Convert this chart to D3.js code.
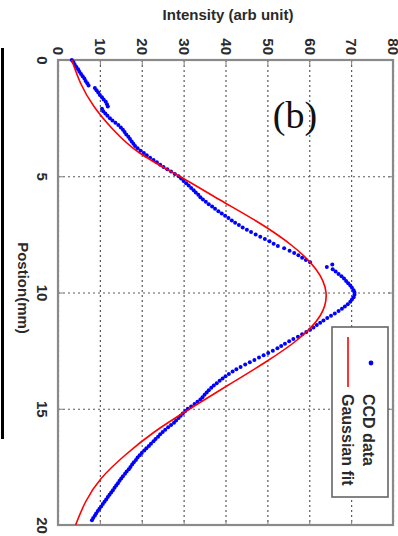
<!DOCTYPE html>
<html>
<head>
<meta charset="utf-8">
<script src="https://cdn.jsdelivr.net/npm/d3@7/dist/d3.min.js"></script>
<style>
  body { margin: 0; background: #fff; }
  svg { display: block; font-family: "Liberation Sans", Arial, sans-serif; }
  .tick line { stroke: #808080; }
  .grid line { stroke: #5a5a5a; stroke-dasharray: 2,3; stroke-width: 1.2; }
</style>
</head>
<body>
<script>
var width = 398;
var height = 536;
var plot = { left: 58, top: 60, right: 393, bottom: 525 };

// tick labels
var intensityTicks = [0, 10, 20, 30, 40, 50, 60, 70, 80];
var positionTicks = [0, 5, 10, 15, 20];

// CCD data, one reading every 0.1 mm starting at 0 mm
var ccdStep = 0.1;
var ccdIntensity = [
  3.3, 3.7, 4.0, 4.4, 4.8, 5.1, 5.5, 5.9, 6.3, 6.6,
  7.0, 7.3, 8.8, 9.2, 9.6, 10.0, 10.5, 10.9, 11.4, 11.7,
  11.9, 10.5, 10.8, 11.3, 11.8, 12.4, 13.0, 13.7, 14.4, 15.0,
  15.5, 15.9, 16.3, 16.8, 17.2, 17.6, 18.0, 18.4, 19.0, 19.7,
  20.5, 21.2, 22.0, 22.8, 23.6, 24.4, 25.2, 26.1, 27.0, 27.9,
  28.8, 29.4, 30.0, 30.6, 31.2, 31.8, 32.4, 32.9, 33.5, 34.0,
  34.6, 35.3, 36.0, 36.8, 37.5, 38.3, 39.1, 39.9, 40.7, 41.5,
  42.3, 43.2, 44.1, 45.1, 46.1, 47.2, 48.3, 49.4, 50.5, 51.5,
  52.5, 54.0, 55.3, 56.4, 57.4, 58.3, 59.2, 60.2, 65.5, 64.2,
  65.6, 66.3, 67.0, 67.7, 68.3, 68.8, 69.3, 69.8, 70.2, 70.6,
  70.8, 70.8, 70.6, 70.2, 69.8, 69.2, 68.5, 67.8, 67.0, 66.1,
  65.2, 64.3, 63.4, 62.6, 61.8, 61.0, 60.2, 59.3, 58.3, 57.3,
  56.2, 55.2, 54.2, 53.3, 52.4, 51.3, 50.2, 49.1, 48.0, 46.9,
  45.8, 44.7, 43.6, 42.6, 41.7, 40.8, 40.0, 39.3, 38.6, 37.9,
  37.2, 36.6, 36.0, 35.5, 35.0, 34.5, 34.0, 33.3, 32.6, 31.8,
  31.0, 30.4, 29.8, 29.3, 28.8, 28.2, 27.7, 27.0, 26.3, 25.6,
  25.0, 24.4, 23.9, 23.3, 22.8, 22.2, 21.7, 21.1, 20.6, 20.0,
  19.5, 19.0, 18.6, 18.1, 17.7, 17.3, 16.9, 16.4, 16.0, 15.5,
  15.1, 14.7, 14.3, 13.9, 13.5, 13.1, 12.7, 12.3, 11.9, 11.5,
  11.1, 10.7, 10.3, 9.9, 9.5, 9.1, 8.8, 8.4, 8.1
];

// Gaussian fit
var fitPosition = [0, 1, 2, 3, 4, 5, 6, 7, 8, 9, 10, 11, 12, 13, 14, 15, 16, 17, 18, 19, 20];
var fitIntensity = [3.3, 5.4, 8.6, 13.2, 19.5, 29.0, 38.5, 48.0, 56.0, 61.6, 64.0,
  62.6, 57.4, 49.5, 40.5, 31.5, 23.0, 16.0, 10.3, 6.6, 4.2];

var legendLabels = ['CCD data', 'Gaussian fit'];

var ccdPoints = ccdIntensity.map(function(v, i) {
  return { pos: i * ccdStep, value: v };
});
var fitPoints = fitPosition.map(function(p, i) {
  return { pos: p, value: fitIntensity[i] };
});

// the figure is turned a quarter turn: intensity runs left to right, position top to bottom
var x = d3.scaleLinear().domain([0, 80]).range([plot.left, plot.right]);
var y = d3.scaleLinear().domain([0, 20]).range([plot.top, plot.bottom]);

var svg = d3.select('body').append('svg')
  .attr('width', width)
  .attr('height', height);

// leftover frame edge of the neighbouring panel
svg.append('rect')
  .attr('x', 1).attr('y', 48)
  .attr('width', 3).attr('height', 391)
  .attr('fill', '#000');

// grid
svg.append('g')
  .attr('class', 'grid')
  .attr('transform', 'translate(0,' + plot.top + ')')
  .call(d3.axisTop(x).tickValues(intensityTicks).tickSize(-(plot.bottom - plot.top)).tickFormat(''))
  .call(function(g) { g.select('.domain').remove(); });

svg.append('g')
  .attr('class', 'grid')
  .attr('transform', 'translate(' + plot.left + ',0)')
  .call(d3.axisLeft(y).tickValues(positionTicks).tickSize(-(plot.right - plot.left)).tickFormat(''))
  .call(function(g) { g.select('.domain').remove(); });

// axes with inward ticks
var topAxis = svg.append('g')
  .attr('transform', 'translate(0,' + plot.top + ')')
  .call(d3.axisTop(x).tickValues(intensityTicks).tickSize(-5));

var leftAxis = svg.append('g')
  .attr('transform', 'translate(' + plot.left + ',0)')
  .call(d3.axisLeft(y).tickValues(positionTicks).tickSize(-5));

svg.append('g')
  .attr('transform', 'translate(0,' + plot.bottom + ')')
  .call(d3.axisBottom(x).tickValues(intensityTicks).tickSize(-5).tickFormat(''));

svg.append('g')
  .attr('transform', 'translate(' + plot.right + ',0)')
  .call(d3.axisRight(y).tickValues(positionTicks).tickSize(-5).tickFormat(''));

svg.selectAll('.domain').remove();

topAxis.selectAll('text')
  .attr('x', 0)
  .attr('y', 0)
  .attr('dy', '0.35em')
  .attr('text-anchor', 'end')
  .attr('transform', 'translate(0,-5) rotate(90)');

leftAxis.selectAll('text')
  .attr('x', 0)
  .attr('y', 0)
  .attr('dy', 0)
  .attr('text-anchor', 'middle')
  .attr('transform', 'translate(-21,0) rotate(90)');

svg.selectAll('.tick text')
  .attr('font-size', 15)
  .attr('font-weight', 'bold')
  .attr('font-family', '"Liberation Sans", Arial, sans-serif')
  .attr('fill', '#2a2a2a');

// box
svg.append('rect')
  .attr('x', plot.left)
  .attr('y', plot.top)
  .attr('width', plot.right - plot.left)
  .attr('height', plot.bottom - plot.top)
  .attr('fill', 'none')
  .attr('stroke', '#8a8a8a')
  .attr('stroke-width', 2.2);

// CCD dots
svg.append('g').selectAll('circle')
  .data(ccdPoints)
  .enter().append('circle')
    .attr('cx', function(d) { return x(d.value); })
    .attr('cy', function(d) { return y(d.pos); })
    .attr('r', 2)
    .attr('fill', '#0000ff');

// fit curve
var fitLine = d3.line()
  .x(function(d) { return x(d.value); })
  .y(function(d) { return y(d.pos); })
  .curve(d3.curveNatural);

svg.append('path')
  .datum(fitPoints)
  .attr('d', fitLine)
  .attr('fill', 'none')
  .attr('stroke', '#ff0000')
  .attr('stroke-width', 1.6);

// titles
svg.append('text')
  .attr('x', 228)
  .attr('y', 20)
  .attr('text-anchor', 'middle')
  .attr('font-size', 15)
  .attr('font-weight', 'bold')
  .attr('fill', '#2a2a2a')
  .text('Intensity (arb unit)');

svg.append('text')
  .attr('transform', 'translate(18,288) rotate(90)')
  .attr('text-anchor', 'middle')
  .attr('font-size', 15)
  .attr('font-weight', 'bold')
  .attr('fill', '#2a2a2a')
  .text('Postion(mm)');

svg.append('text')
  .attr('x', 295)
  .attr('y', 128)
  .attr('text-anchor', 'middle')
  .attr('font-family', '"Liberation Serif", "Times New Roman", serif')
  .attr('font-size', 38)
  .attr('fill', '#111')
  .text('(b)');

// legend
var legend = svg.append('g');

legend.append('rect')
  .attr('x', 332).attr('y', 327)
  .attr('width', 56).attr('height', 170)
  .attr('fill', '#fff')
  .attr('stroke', '#666')
  .attr('stroke-width', 1.6);

legend.append('circle')
  .attr('cx', 371).attr('cy', 363)
  .attr('r', 2.4)
  .attr('fill', '#0000ff');

legend.append('line')
  .attr('x1', 348).attr('x2', 348)
  .attr('y1', 337).attr('y2', 387)
  .attr('stroke', '#ff0000')
  .attr('stroke-width', 1.6);

legend.selectAll('text')
  .data(legendLabels)
  .enter().append('text')
    .attr('transform', function(d, i) {
      return 'translate(' + (i === 0 ? 363 : 342) + ',394) rotate(90)';
    })
    .attr('font-size', 16)
    .attr('font-weight', 'bold')
    .attr('fill', '#2a2a2a')
    .text(function(d) { return d; });
</script>
</body>
</html>
